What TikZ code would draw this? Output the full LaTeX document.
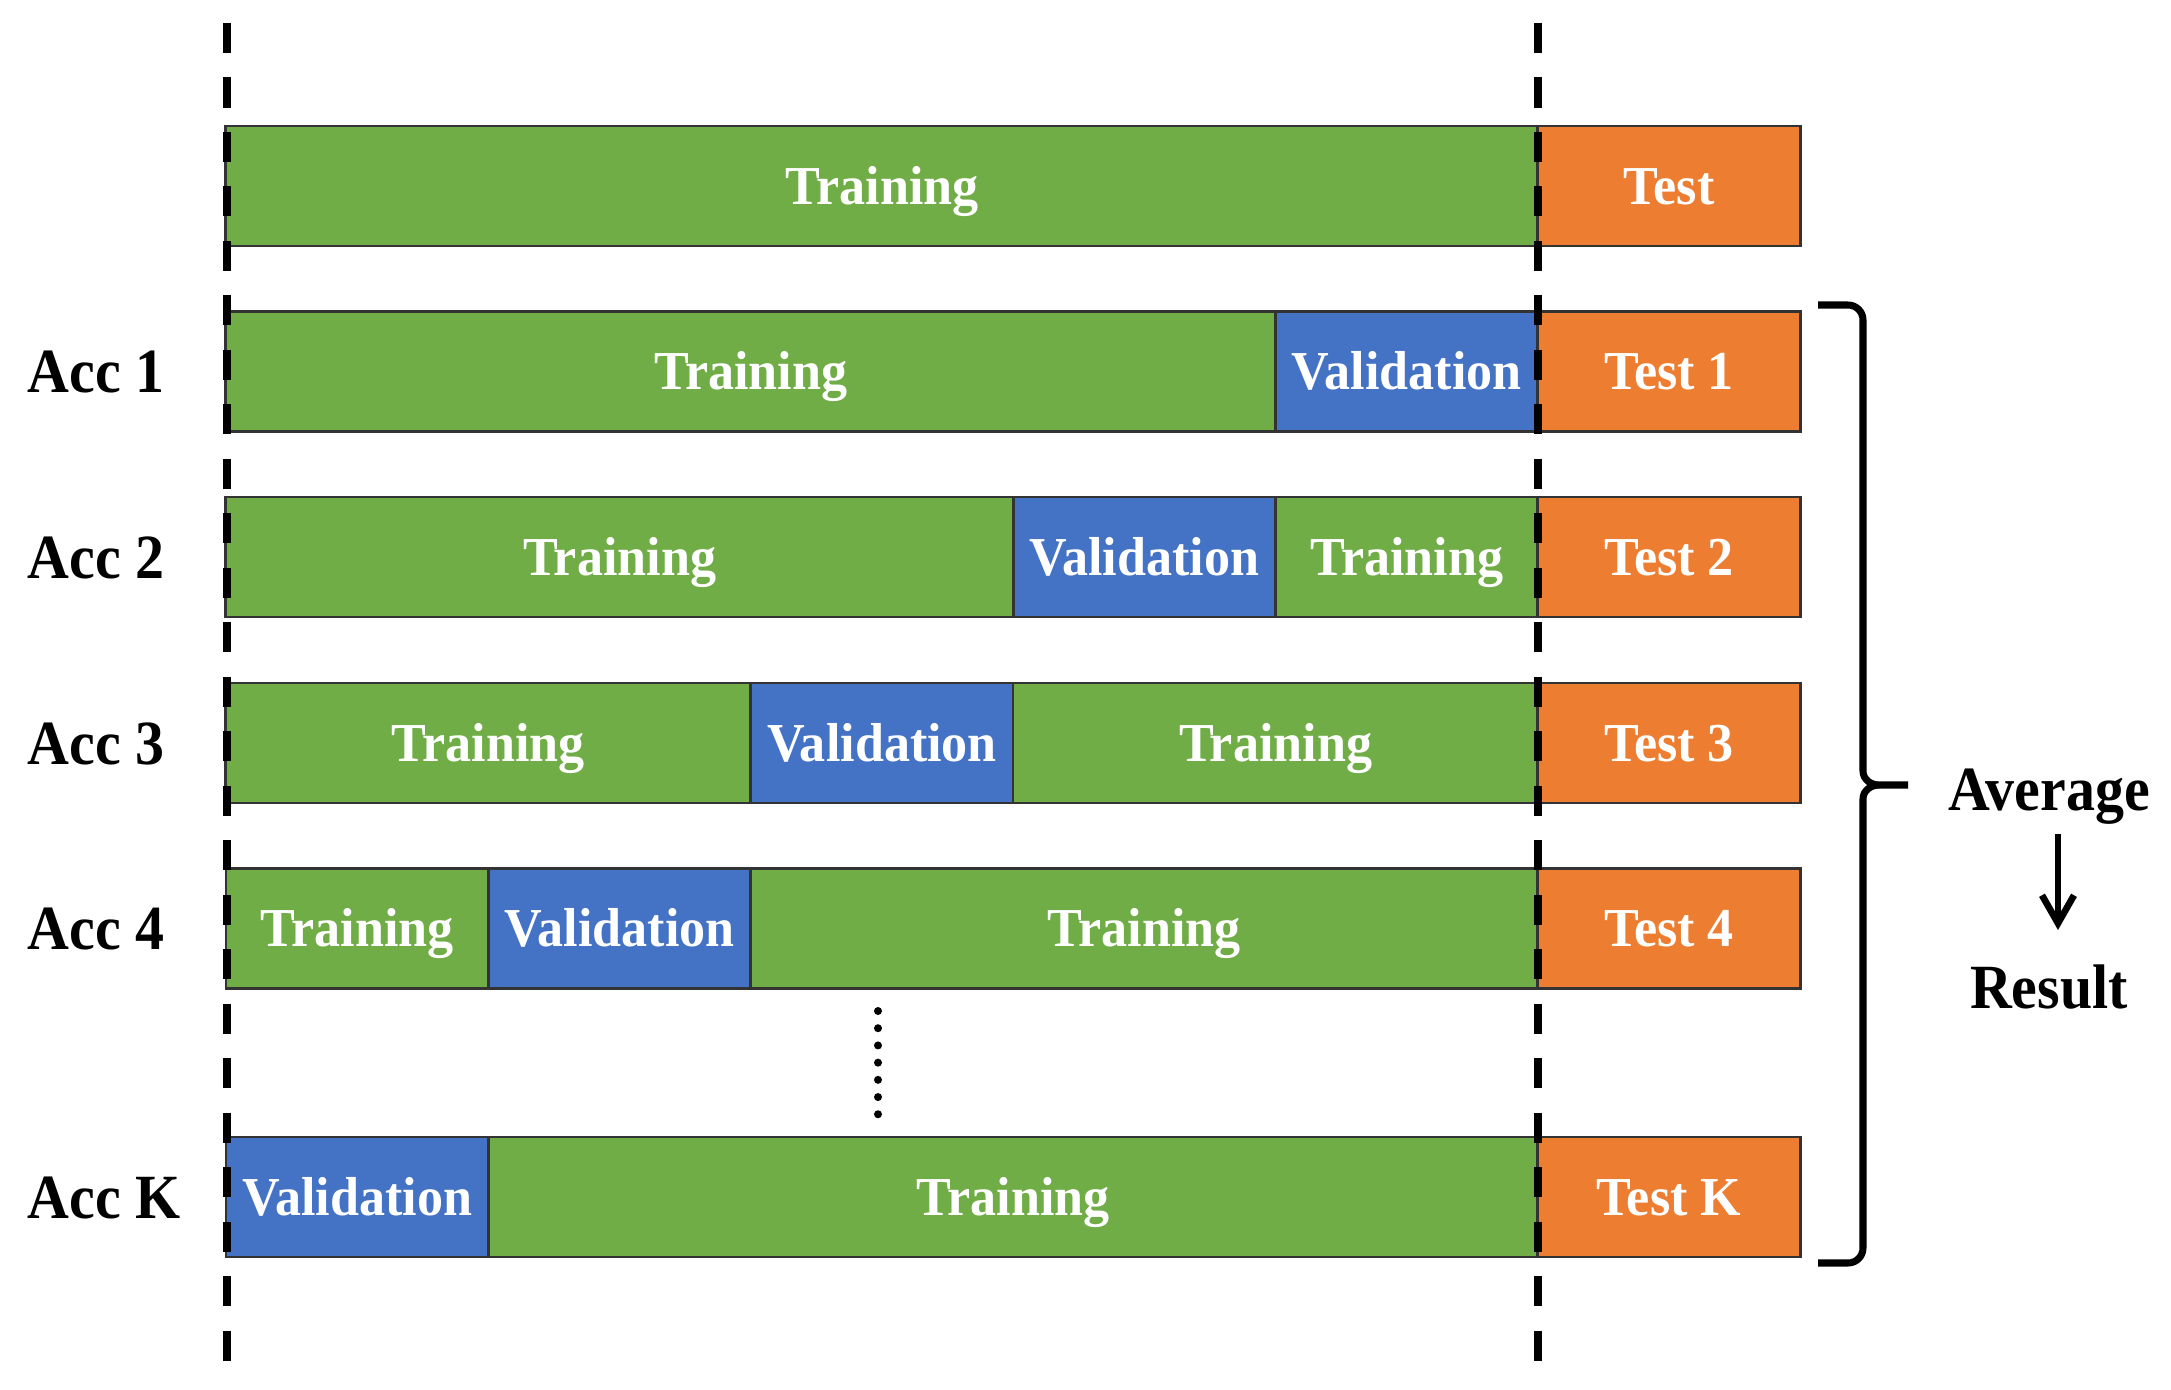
\documentclass[tikz,border=0pt]{standalone}
\usepackage{fontspec}
\setmainfont{Liberation Serif}
\newfontfamily\barfont{Liberation Serif}[FakeStretch=0.95]
\newfontfamily\lblfont{Liberation Serif}[FakeStretch=0.92]
\usetikzlibrary{arrows.meta}
\definecolor{trgreen}{HTML}{70AD47}
\definecolor{valblue}{HTML}{4472C4}
\definecolor{tstorange}{HTML}{ED7D31}
\tikzset{
  seg/.style={draw=black!80, line width=0.8pt, minimum height=1.2cm, inner sep=0pt,
    text=white, font=\barfont\bfseries\fontsize{15.6}{18}\selectfont,
    text height=10.5pt, text depth=0pt},
  trbox/.style={seg, fill=trgreen},
  valbox/.style={seg, fill=valblue, minimum width=2.624cm},
  tstbox/.style={seg, fill=tstorange, minimum width=2.624cm},
  acclbl/.style={anchor=west, inner sep=0pt, font=\lblfont\bfseries\fontsize{17.9}{20}\selectfont,
    text height=12.1pt, text depth=0pt},
  sidelbl/.style={inner sep=0pt, font=\lblfont\bfseries\fontsize{17.9}{20}\selectfont,
    text height=12.1pt, text depth=0pt},
  foldline/.style={line width=2pt, dash pattern=on 0.30cm off 0.2445cm},
}
\begin{document}
\begin{tikzpicture}[x=0.01cm, y=-0.01cm]
\useasboundingbox (0,0) rectangle (2171,1390);
% row 0
\node[trbox, minimum width=13.12cm] (t0) at (882,186) {Training};
\node[tstbox] (s0) at (1669,186) {Test};
% row 1
\node[trbox, minimum width=10.496cm] (t1a) at (750.8,371.5) {Training};
\node[valbox] (v1) at (1406.8,371.5) {Validation};
\node[tstbox] (s1) at (1669,371.5) {Test 1};
\node[acclbl] (a1) at (27,371.5) {Acc 1};
% row 2
\node[trbox, minimum width=7.872cm] (t2a) at (619.6,557) {Training};
\node[valbox] (v2) at (1144.4,557) {Validation};
\node[trbox, minimum width=2.624cm] (t2b) at (1406.8,557) {Training};
\node[tstbox] (s2) at (1669,557) {Test 2};
\node[acclbl] (a2) at (27,557) {Acc 2};
% row 3
\node[trbox, minimum width=5.248cm] (t3a) at (488.4,743) {Training};
\node[valbox] (v3) at (882,743) {Validation};
\node[trbox, minimum width=5.248cm] (t3b) at (1275.6,743) {Training};
\node[tstbox] (s3) at (1669,743) {Test 3};
\node[acclbl] (a3) at (27,743) {Acc 3};
% row 4
\node[trbox, minimum width=2.624cm] (t4a) at (357.2,928.5) {Training};
\node[valbox] (v4) at (619.6,928.5) {Validation};
\node[trbox, minimum width=7.872cm] (t4b) at (1144.4,928.5) {Training};
\node[tstbox] (s4) at (1669,928.5) {Test 4};
\node[acclbl] (a4) at (27,928.5) {Acc 4};
% row K
\node[valbox] (vK) at (357.2,1197) {Validation};
\node[trbox, minimum width=10.496cm] (tKa) at (1013.2,1197) {Training};
\node[tstbox] (sK) at (1669,1197) {Test K};
\node[acclbl] (aK) at (27,1197) {Acc K};
% dashed fold lines
\coordinate (l1top) at (227,23);
\coordinate (l1bot) at (227,1361);
\coordinate (l2top) at (1538,23);
\coordinate (l2bot) at (1538,1361);
\draw[foldline] (l1top) -- (l1bot);
\draw[foldline] (l2top) -- (l2bot);
% dots
\coordinate (dtop) at (878,1011);
\coordinate (dbot) at (878,1114.5);
\draw[line width=0.08cm, line cap=round, dash pattern=on 0pt off 0.172cm] (dtop) -- (dbot);
% brace
\draw[line width=2pt, line join=round]
  (1818,305) -- (1848,305) to[out=0,in=90] (1863,320) -- (1863,771)
  to[out=-90,in=180] (1879,785) -- (1908,785);
\draw[line width=2pt, line join=round]
  (1879,785) to[out=180,in=90] (1863,799) -- (1863,1248)
  to[out=-90,in=0] (1848,1263) -- (1818,1263);
% average -> result
\node[sidelbl] (avg) at (2049,789) {Average};
\node[sidelbl] (res) at (2049,987) {Result};
\coordinate (arrtop) at (2058,834);
\coordinate (arrbot) at (2058,930);
\draw[line width=1.9pt, -{Straight Barb[length=0.28cm, width=0.32cm]}] (arrtop) -- (arrbot);
\end{tikzpicture}
\end{document}
